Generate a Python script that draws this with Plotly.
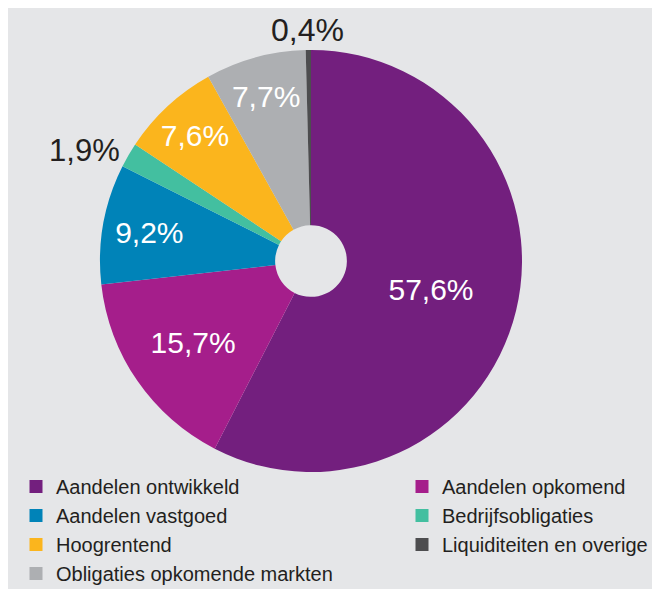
import plotly.graph_objects as go

# Data (slice order, clockwise from 12 o'clock)
categories = [
    "Aandelen ontwikkeld",
    "Aandelen opkomend",
    "Aandelen vastgoed",
    "Bedrijfsobligaties",
    "Hoogrentend",
    "Obligaties opkomende markten",
    "Liquiditeiten en overige",
]
values = [57.6, 15.7, 9.2, 1.9, 7.6, 7.7, 0.4]

# Legend columns
legend_left = ["Aandelen ontwikkeld", "Aandelen vastgoed", "Hoogrentend", "Obligaties opkomende markten"]
legend_right = ["Aandelen opkomend", "Bedrijfsobligaties", "Liquiditeiten en overige"]

colors = {
    "Aandelen ontwikkeld": "#731F7E",
    "Aandelen opkomend": "#A51E8B",
    "Aandelen vastgoed": "#0083B8",
    "Bedrijfsobligaties": "#43BFA0",
    "Hoogrentend": "#FBB51D",
    "Obligaties opkomende markten": "#ADAFB2",
    "Liquiditeiten en overige": "#4D4D4F",
}
# the last (0,4%) label is set as a centred annotation above the top of the pie
text_pos = ["inside", "inside", "inside", "outside", "inside", "inside", "none"]

FONT = "Liberation Sans, Arial, sans-serif"
W, H = 660, 589
# (page body has an 8px margin, so figure coords = screen coords - 8)
dom_x = [92 / W, 514 / W]
dom_y = [1 - 464 / H, 1 - 42 / H]

fig = go.Figure()
fig.add_trace(go.Pie(
    labels=categories,
    values=values,
    sort=False,
    direction="clockwise",
    rotation=0,
    hole=0.17,
    marker=dict(colors=[colors[c] for c in categories], line=dict(width=0)),
    texttemplate="%{value:.1f}%",
    textposition=text_pos,
    insidetextorientation="horizontal",
    insidetextfont=dict(color="white", size=30, family=FONT),
    outsidetextfont=dict(color="#231F20", size=31, family=FONT),
    showlegend=False,
    domain=dict(x=dom_x, y=dom_y),
))

for i, name in enumerate(legend_left):
    fig.add_trace(go.Scatter(x=[None], y=[None], mode="markers", name=name,
                             legendgroup="L%d" % i,
                             marker=dict(symbol="square", size=13, color=colors[name]),
                             legend="legend"))
for i, name in enumerate(legend_right):
    fig.add_trace(go.Scatter(x=[None], y=[None], mode="markers", name=name,
                             legendgroup="R%d" % i,
                             marker=dict(symbol="square", size=13, color=colors[name]),
                             legend="legend2"))

legend_common = dict(
    font=dict(family=FONT, size=20, color="#231F20"),
    bgcolor="rgba(0,0,0,0)",
    borderwidth=0,
    yanchor="top",
    xanchor="left",
    traceorder="grouped",
    tracegroupgap=0,
    itemclick=False,
)

top_label = "{:.1f}%".format(values[-1]).replace(".", ",")
fig.update_layout(
    width=W, height=H,
    margin=dict(l=0, r=0, t=0, b=0, autoexpand=False),
    paper_bgcolor="white",
    plot_bgcolor="rgba(0,0,0,0)",
    separators=",.",
    font=dict(family=FONT),
    uniformtext=dict(minsize=30, mode="show"),
    xaxis=dict(visible=False),
    yaxis=dict(visible=False),
    legend=dict(x=8 / W, y=1 - 459 / H, **legend_common),
    legend2=dict(x=394 / W, y=1 - 459 / H, **legend_common),
    shapes=[dict(type="rect", xref="paper", yref="paper", x0=0, x1=1.01, y0=-0.01, y1=1.01,
                 fillcolor="#E5E6E8", line=dict(width=0), layer="below")],
    annotations=[dict(text=top_label, xref="paper", yref="paper",
                      x=299 / W, y=1 - 22 / H, xanchor="center", yanchor="middle",
                      showarrow=False, font=dict(family=FONT, size=32, color="#231F20"))],
)

fig.write_html("out.html")
